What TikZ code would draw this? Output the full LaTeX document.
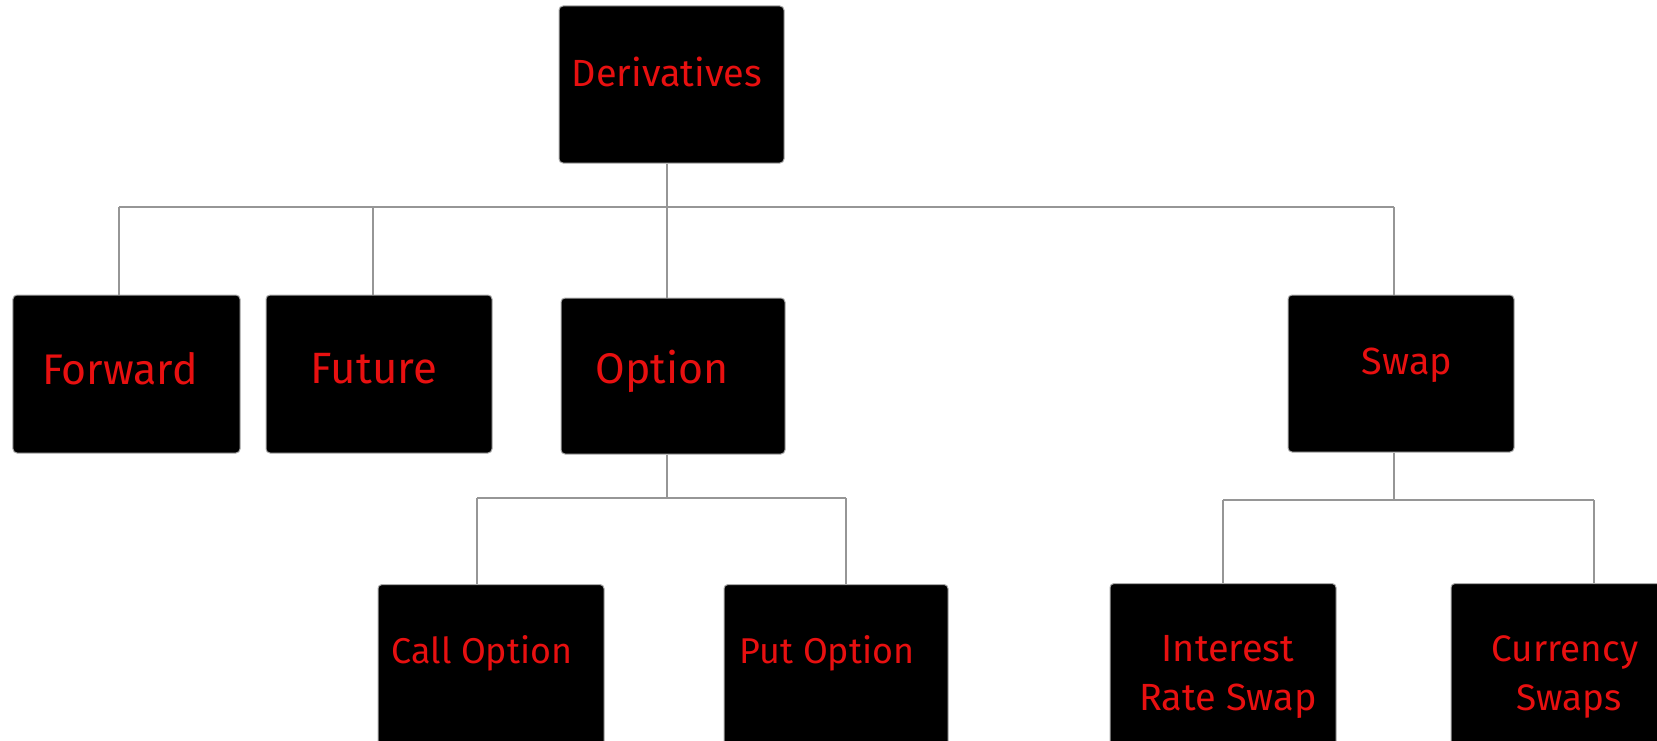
\documentclass[tikz,border=0pt]{standalone}
\usepackage{fontspec}
\setmainfont{Fira Sans}
\definecolor{txtred}{RGB}{232,16,16}
\definecolor{linegray}{RGB}{150,150,150}
\definecolor{boxedge}{RGB}{170,170,170}
\tikzset{
  box/.style={rectangle, fill=black, draw=boxedge, line width=1bp, rounded corners=4bp, inner sep=0pt},
  lbl/.style={text=txtred, inner sep=0pt, align=center},
  conn/.style={draw=linegray, line width=1.3bp},
}
\newcommand{\fs}[2]{\fontsize{#1}{#2}\selectfont}
\begin{document}
\begin{tikzpicture}[x=1bp,y=-1bp]
\clip (0,0) rectangle (1657,741);
\fill[white] (0,0) rectangle (1657,741);
% boxes
\node[box, minimum width=225bp, minimum height=157bp] (der) at (671.5,84.5) {};
\node[box, minimum width=227bp, minimum height=158bp] (fwd) at (126.5,374) {};
\node[box, minimum width=226bp, minimum height=158bp] (fut) at (379,374) {};
\node[box, minimum width=224bp, minimum height=156bp] (opt) at (673,376) {};
\node[box, minimum width=226bp, minimum height=157bp] (swp) at (1401,373.5) {};
\node[box, minimum width=226bp, minimum height=170bp] (call) at (491,669.5) {};
\node[box, minimum width=224bp, minimum height=170bp] (put) at (836,669.5) {};
\node[box, minimum width=226bp, minimum height=170bp] (irs) at (1223,668.5) {};
\node[box, minimum width=226bp, minimum height=170bp] (cur) at (1564,668.5) {};
% labels
\node[lbl, font=\fs{38}{38}] (tder) at (667,72) {Derivatives};
\node[lbl, font=\fs{43}{43}] (tfwd) at (120,369) {Forward};
\node[lbl, font=\fs{44}{44}] (tfut) at (374,369) {Future};
\node[lbl, font=\fs{43}{43}] (topt) at (662,371) {Option};
\node[lbl, font=\fs{38}{38}] (tswp) at (1407,365) {Swap};
\node[lbl, font=\fs{36}{36}] (tcall) at (482,653) {Call Option};
\node[lbl, font=\fs{36}{36}] (tput) at (827,653) {Put Option};
\node[lbl, font=\fs{38}{49}] (tirs) at (1228,677) {Interest\\Rate Swap};
\node[lbl, font=\fs{37}{49}] (tcur) at (1565,677) {Currency\\\hspace*{8bp}Swaps};
% bus coordinates
\coordinate (b1) at (667,207);
\coordinate (cfwd) at (119,207);
\coordinate (cfut) at (373,207);
\coordinate (copt) at (667,207);
\coordinate (cswp) at (1394,207);
\coordinate (b2) at (667,498);
\coordinate (ccall) at (477,498);
\coordinate (cput) at (846,498);
\coordinate (b3) at (1394,500);
\coordinate (cirs) at (1223,500);
\coordinate (ccur) at (1594,500);
% connectors
\draw[conn] (der.south -| b1) -- (b1);
\draw[conn] (cfwd) -- (cswp);
\draw[conn] (cfwd) -- (cfwd |- fwd.north);
\draw[conn] (cfut) -- (cfut |- fut.north);
\draw[conn] (copt) -- (copt |- opt.north);
\draw[conn] (cswp) -- (cswp |- swp.north);
\draw[conn] (opt.south -| b2) -- (b2);
\draw[conn] (ccall) -- (cput);
\draw[conn] (ccall) -- (ccall |- call.north);
\draw[conn] (cput) -- (cput |- put.north);
\draw[conn] (swp.south -| b3) -- (b3);
\draw[conn] (cirs) -- (ccur);
\draw[conn] (cirs) -- (cirs |- irs.north);
\draw[conn] (ccur) -- (ccur |- cur.north);
\end{tikzpicture}
\end{document}
